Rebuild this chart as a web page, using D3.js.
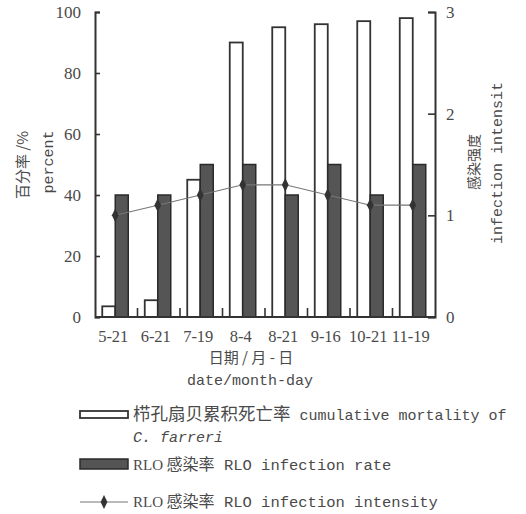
<!DOCTYPE html>
<html><head><meta charset="utf-8">
<script src="https://cdn.jsdelivr.net/npm/d3@7"></script>
<style>body{margin:0;background:#fff}svg{display:block}</style>
</head><body>
<svg id="c" width="526" height="514"></svg>
<script>
const categories = ["5-21","6-21","7-19","8-4","8-21","9-16","10-21","11-19"];
const mortality = [3.5,5.5,45,90,95,96,97,98];
const infectionRate = [40,40,50,50,40,50,40,50];
const intensity = [1.0,1.1,1.2,1.3,1.3,1.2,1.1,1.1];
const leftTicks = [0,20,40,60,80,100];
const rightTicks = [0,1,2,3];

const svg = d3.select("#c");
const ink = "#333", txt = "#4a4a4a";
const serif = "'Liberation Serif','DejaVu Serif',serif";
const mono = "'Liberation Mono','DejaVu Sans Mono',monospace";
const cjk = "'Noto Sans CJK SC',sans-serif";

const x = d3.scaleBand().domain(categories).range([95,435]).padding(0);
const bw = x.bandwidth();
const x1 = d3.scaleBand().domain(["m","r"]).range([bw/2-14, bw/2+12]).padding(0);
const yL = d3.scaleLinear().domain([0,100]).range([317,12]);
const yR = d3.scaleLinear().domain([0,3]).range([317,12]);

const g = svg.append("g");

// mortality bars
g.selectAll("rect.m").data(categories).join("rect")
  .attr("x", d => x(d)+x1("m")).attr("width", x1.bandwidth())
  .attr("y", (d,i) => yL(mortality[i])).attr("height", (d,i) => yL(0)-yL(mortality[i]))
  .attr("fill","#fff").attr("stroke",ink).attr("stroke-width",1.8);
// infection rate bars
g.selectAll("rect.r").data(categories).join("rect")
  .attr("x", d => x(d)+x1("r")).attr("width", x1.bandwidth())
  .attr("y", (d,i) => yL(infectionRate[i])).attr("height", (d,i) => yL(0)-yL(infectionRate[i]))
  .attr("fill","#555").attr("stroke","#2a2a2a").attr("stroke-width",1.5);

// intensity line
const line = d3.line().x((d,i) => x(categories[i])+x1("r")).y(d => yR(d));
g.append("path").datum(intensity).attr("d", line)
  .attr("fill","none").attr("stroke","#777").attr("stroke-width",1.1);
const sym = d3.symbol().type(d3.symbolDiamond).size(55);
g.selectAll("path.pt").data(intensity).join("path")
  .attr("transform",(d,i)=>`translate(${x(categories[i])+x1("r")},${yR(d)}) scale(0.85,1)`)
  .attr("d", sym).attr("fill","#333");

// axes
const aL = svg.append("g").attr("transform","translate(95,0)")
  .call(d3.axisRight(yL).tickValues(leftTicks).tickSize(5).tickFormat(""));
const aR = svg.append("g").attr("transform","translate(435,0)")
  .call(d3.axisLeft(yR).tickValues(rightTicks).tickSize(7).tickFormat(""));
const aB = svg.append("g").attr("transform","translate(0,317)")
  .call(d3.axisTop(x).tickSize(0).tickFormat(""));
[aL,aR,aB].forEach(a => {
  a.select(".domain").attr("stroke",ink).attr("stroke-width",2);
  a.selectAll(".tick line").attr("stroke",ink).attr("stroke-width",1.6);
});
aB.select(".domain").attr("d","M95,0H435");
// bottom boundary ticks
svg.append("g").selectAll("line").data(categories.slice(1)).join("line")
  .attr("x1", d => x(d)).attr("x2", d => x(d)).attr("y1",317).attr("y2",308)
  .attr("stroke",ink).attr("stroke-width",1.6);

// tick labels
svg.append("g").selectAll("text").data(leftTicks).join("text")
  .attr("x",81).attr("y",d=>yL(d)).attr("dy","0.35em").attr("text-anchor","end")
  .attr("font-family",serif).attr("font-size",17).attr("fill",txt).text(d=>d);
svg.append("g").selectAll("text").data(rightTicks).join("text")
  .attr("x",446).attr("y",d=>yR(d)).attr("dy","0.35em").attr("text-anchor","start")
  .attr("font-family",serif).attr("font-size",17).attr("fill",txt).text(d=>d);
svg.append("g").selectAll("text").data(categories).join("text")
  .attr("x",d=>x(d)+bw/2-3).attr("y",342).attr("text-anchor","middle")
  .attr("font-family",serif).attr("font-size",16.5).attr("fill",txt).text(d=>d);

// axis titles
svg.append("text").attr("x",251).attr("y",363).attr("text-anchor","middle")
  .attr("font-family",cjk).attr("font-size",15).attr("fill",txt).text("日期 / 月 - 日");
svg.append("text").attr("x",250).attr("y",385).attr("text-anchor","middle")
  .attr("font-family",mono).attr("font-size",15).attr("fill",txt).text("date/month-day");
svg.append("text").attr("transform","translate(28,165) rotate(-90)").attr("text-anchor","middle")
  .attr("font-family",cjk).attr("font-size",15).attr("fill",txt).text("百分率 /%");
svg.append("text").attr("transform","translate(53,162) rotate(-90)").attr("text-anchor","middle")
  .attr("font-family",mono).attr("font-size",15).attr("fill",txt).text("percent");
svg.append("text").attr("transform","translate(479,162) rotate(-90)").attr("text-anchor","middle")
  .attr("font-family",cjk).attr("font-size",14).attr("fill",txt).text("感染强度");
svg.append("text").attr("transform","translate(502,163) rotate(-90)").attr("text-anchor","middle")
  .attr("font-family",mono).attr("font-size",15).attr("fill",txt).text("infection intensit");

// legend
const lg = svg.append("g");
lg.append("rect").attr("x",80).attr("y",411).attr("width",48).attr("height",7)
  .attr("fill","#fff").attr("stroke",ink).attr("stroke-width",1.8);
lg.append("rect").attr("x",80).attr("y",459).attr("width",48).attr("height",10)
  .attr("fill","#555").attr("stroke","#2a2a2a").attr("stroke-width",1.5);
lg.append("line").attr("x1",80).attr("x2",128).attr("y1",502).attr("y2",502)
  .attr("stroke","#777").attr("stroke-width",1.1);
lg.append("path").attr("transform","translate(104,502) scale(0.85,1)").attr("d",sym).attr("fill","#333");

function legendText(y, parts){
  const t = lg.append("text").attr("x",133).attr("y",y).attr("fill",txt);
  parts.forEach(p => t.append("tspan").attr("font-family",p[1]).attr("font-size",p[2])
    .attr("font-style",p[3]||null).text(p[0]));
}
legendText(420, [["栉孔扇贝累积死亡率",cjk,17.5],[" cumulative mortality of",mono,15]]);
legendText(442, [["C.  farreri",mono,15,"italic"]]);
legendText(470, [["RLO",serif,15],[" 感染率",cjk,16],[" RLO infection rate",mono,15.5]]);
legendText(507, [["RLO",serif,15],[" 感染率",cjk,16],[" RLO infection intensity",mono,15.5]]);
</script>
</body></html>
